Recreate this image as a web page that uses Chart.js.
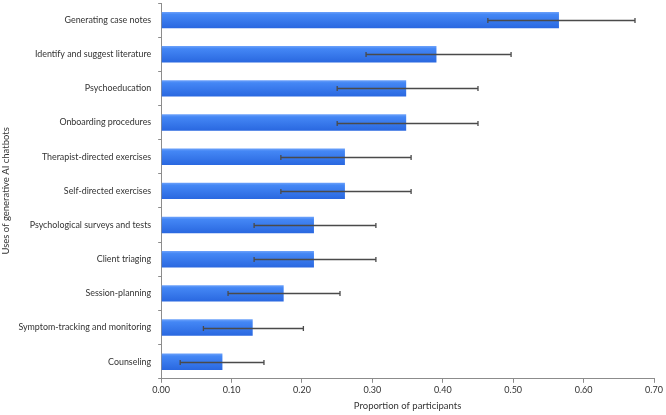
<!DOCTYPE html>
<html>
<head>
<meta charset="utf-8">
<script src="https://cdn.jsdelivr.net/npm/chart.js@4/dist/chart.umd.min.js"></script>
<style>
  html, body { margin: 0; padding: 0; background: #fff; }
  #wrap { width: 666px; height: 415px; position: relative; }
</style>
</head>
<body>
<div id="wrap"><canvas id="usesChart" width="666" height="415"></canvas></div>
<script>
const uses = [
  "Generating case notes",
  "Identify and suggest literature",
  "Psychoeducation",
  "Onboarding procedures",
  "Therapist-directed exercises",
  "Self-directed exercises",
  "Psychological surveys and tests",
  "Client triaging",
  "Session-planning",
  "Symptom-tracking and monitoring",
  "Counseling"
];
const proportion = [0.565, 0.391, 0.348, 0.348, 0.261, 0.261, 0.217, 0.217, 0.174, 0.130, 0.087];
const lowerCI = [0.464, 0.291, 0.250, 0.250, 0.170, 0.170, 0.132, 0.132, 0.095, 0.060, 0.027];
const upperCI = [0.673, 0.497, 0.450, 0.450, 0.355, 0.355, 0.305, 0.305, 0.254, 0.202, 0.146];

const font = "Lato";

// whiskers drawn with the chart's own scales
const errorBars = {
  id: "errorBars",
  afterDatasetsDraw(chart) {
    const { ctx, scales: { x, y } } = chart;
    ctx.save();
    ctx.strokeStyle = "#4a4a4a";
    ctx.lineWidth = 1.3;
    uses.forEach((u, i) => {
      const py = Math.round(y.getPixelForValue(i)) + 0.5;
      const x1 = x.getPixelForValue(lowerCI[i]);
      const x2 = x.getPixelForValue(upperCI[i]);
      ctx.beginPath();
      ctx.moveTo(x1, py);
      ctx.lineTo(x2, py);
      ctx.moveTo(x1, py - 2.5);
      ctx.lineTo(x1, py + 2.5);
      ctx.moveTo(x2, py - 2.5);
      ctx.lineTo(x2, py + 2.5);
      ctx.stroke();
    });
    ctx.restore();
  }
};

function barFill(context) {
  const chart = context.chart;
  const y = chart.scales && chart.scales.y;
  const cy = y ? y.getPixelForValue(context.dataIndex) : NaN;
  if (!isFinite(cy)) return "#3b7cf0";
  const g = chart.ctx.createLinearGradient(0, cy - 8, 0, cy + 8);
  g.addColorStop(0, "#6aa0fa");
  g.addColorStop(0.15, "#4487f5");
  g.addColorStop(1, "#2a68e0");
  return g;
}

new Chart(document.getElementById("usesChart"), {
  type: "bar",
  data: {
    labels: uses,
    datasets: [{
      data: proportion,
      backgroundColor: barFill,
      borderWidth: 0,
      barPercentage: 0.48,
      categoryPercentage: 1.0
    }]
  },
  plugins: [errorBars],
  options: {
    indexAxis: "y",
    responsive: false,
    animation: false,
    devicePixelRatio: 1,
    layout: { padding: { top: 3, right: 12, left: 0, bottom: 3 } },
    plugins: { legend: { display: false }, tooltip: { enabled: false } },
    scales: {
      x: {
        min: 0,
        max: 0.7,
        border: { color: "#8c8c8c", width: 1 },
        grid: { drawOnChartArea: false, drawTicks: true, tickLength: 4, color: "#8c8c8c" },
        ticks: {
          stepSize: 0.1,
          color: "#333",
          font: { family: font, size: 9 },
          padding: 2,
          maxRotation: 0,
          callback: v => Number(v).toFixed(2)
        },
        title: {
          display: true,
          text: "Proportion of participants",
          color: "#333",
          font: { family: font, size: 9.5 },
          padding: { top: 3, bottom: 0 }
        }
      },
      y: {
        border: { color: "#8c8c8c", width: 1 },
        grid: { drawOnChartArea: false, drawTicks: true, tickLength: 3, offset: true, color: "#8c8c8c" },
        afterFit(scale) {
          scale.paddingTop = 0;
          scale.paddingBottom = 0;
        },
        ticks: {
          color: "#333",
          font: { family: font, size: 8.9 },
          padding: 7,
          autoSkip: false
        },
        title: {
          display: true,
          text: "Uses of generative AI chatbots",
          color: "#333",
          font: { family: font, size: 9.5 },
          padding: { top: 0, bottom: 0 }
        }
      }
    }
  }
});
</script>
</body>
</html>
